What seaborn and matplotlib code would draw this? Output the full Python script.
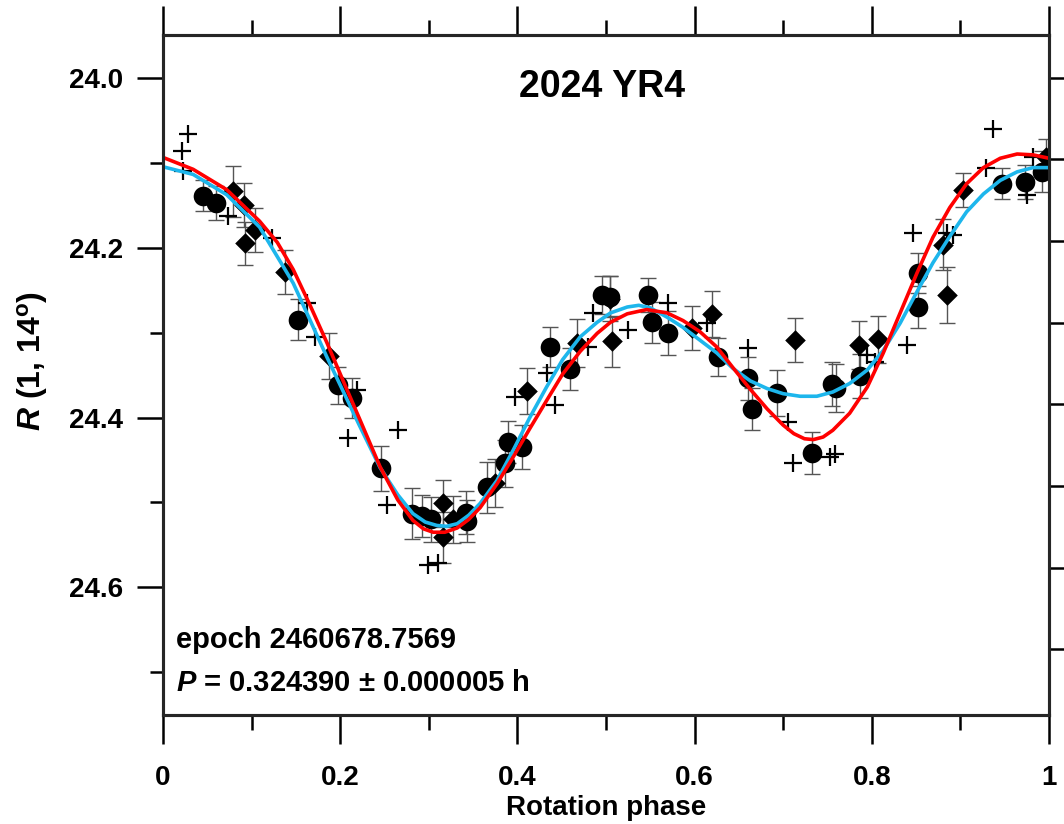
import numpy as np
import pandas as pd
import seaborn as sns
import matplotlib.pyplot as plt
from matplotlib.ticker import MultipleLocator, FuncFormatter

# ---- data read off the lightcurve ----
# session A (filled circles, with error bars)
circ_phase = [0.045, 0.060, 0.152, 0.198, 0.213, 0.246, 0.281, 0.292, 0.303, 0.342,
              0.343, 0.366, 0.386, 0.389, 0.405, 0.437, 0.459, 0.495, 0.504, 0.547,
              0.552, 0.570, 0.626, 0.660, 0.665, 0.693, 0.733, 0.755, 0.760, 0.787,
              0.852, 0.852, 0.947, 0.973, 0.992]
circ_mag = [24.139, 24.148, 24.285, 24.362, 24.377, 24.460, 24.513, 24.516, 24.520, 24.512,
            24.522, 24.482, 24.454, 24.429, 24.435, 24.317, 24.343, 24.256, 24.258, 24.256,
            24.288, 24.301, 24.329, 24.354, 24.390, 24.371, 24.442, 24.361, 24.365, 24.351,
            24.230, 24.270, 24.125, 24.123, 24.111]
circ_err = [0.018, 0.020, 0.024, 0.022, 0.024, 0.027, 0.030, 0.025, 0.027, 0.025,
            0.025, 0.030, 0.028, 0.025, 0.026, 0.024, 0.025, 0.022, 0.024, 0.020,
            0.024, 0.026, 0.022, 0.025, 0.025, 0.027, 0.025, 0.026, 0.028, 0.026,
            0.024, 0.025, 0.018, 0.020, 0.024]

# session B (filled diamonds, with error bars)
diam_phase = [0.079, 0.091, 0.093, 0.104, 0.138, 0.187, 0.316, 0.316, 0.327, 0.375,
              0.411, 0.467, 0.505, 0.507, 0.597, 0.620, 0.713, 0.786, 0.807, 0.880,
              0.885, 0.903, 0.997]
diam_mag = [24.134, 24.150, 24.195, 24.179, 24.229, 24.328, 24.501, 24.541, 24.520, 24.477,
            24.369, 24.312, 24.260, 24.310, 24.295, 24.278, 24.309, 24.315, 24.308, 24.197,
            24.256, 24.132, 24.094]
diam_err = [0.030, 0.026, 0.025, 0.026, 0.026, 0.027, 0.028, 0.030, 0.028, 0.028,
            0.027, 0.028, 0.027, 0.030, 0.026, 0.027, 0.026, 0.028, 0.028, 0.030,
            0.033, 0.020, 0.022]

# session C (plus signs)
plus_phase = [0.021, 0.028, 0.023, 0.073, 0.123, 0.163, 0.172, 0.209, 0.219, 0.253,
              0.265, 0.299, 0.310, 0.397, 0.433, 0.442, 0.485, 0.480, 0.525, 0.570,
              0.614, 0.660, 0.705, 0.711, 0.753, 0.758, 0.795, 0.804, 0.840, 0.846,
              0.885, 0.892, 0.929, 0.937, 0.975, 0.982]
plus_mag = [24.087, 24.066, 24.110, 24.163, 24.189, 24.265, 24.305, 24.424, 24.368, 24.503,
            24.415, 24.574, 24.571, 24.376, 24.348, 24.385, 24.277, 24.317, 24.297, 24.265,
            24.289, 24.318, 24.405, 24.453, 24.447, 24.443, 24.327, 24.335, 24.315, 24.183,
            24.183, 24.185, 24.106, 24.061, 24.138, 24.093]

# fitted curves
blue_phase = [0.000, 0.034, 0.072, 0.109, 0.147, 0.185, 0.222, 0.245, 0.265, 0.282,
              0.296, 0.309, 0.320, 0.332, 0.345, 0.358, 0.377, 0.395, 0.414, 0.433,
              0.451, 0.471, 0.490, 0.505, 0.524, 0.537, 0.550, 0.569, 0.587, 0.606,
              0.625, 0.643, 0.663, 0.682, 0.700, 0.719, 0.738, 0.756, 0.775, 0.795,
              0.813, 0.832, 0.851, 0.869, 0.888, 0.907, 0.926, 0.945, 0.964, 0.982,
              1.000]
blue_mag = [24.105, 24.114, 24.138, 24.176, 24.242, 24.329, 24.410, 24.459, 24.491, 24.513,
            24.523, 24.527, 24.528, 24.525, 24.515, 24.501, 24.474, 24.439, 24.400, 24.364,
            24.332, 24.305, 24.288, 24.277, 24.270, 24.268, 24.271, 24.282, 24.294, 24.309,
            24.324, 24.342, 24.357, 24.366, 24.372, 24.375, 24.375, 24.370, 24.360, 24.344,
            24.321, 24.289, 24.252, 24.218, 24.187, 24.158, 24.137, 24.121, 24.111, 24.106,
            24.106]

red_phase = [0.000, 0.034, 0.072, 0.109, 0.129, 0.147, 0.166, 0.185, 0.203, 0.222,
             0.245, 0.265, 0.282, 0.294, 0.305, 0.318, 0.332, 0.345, 0.358, 0.377,
             0.395, 0.414, 0.433, 0.451, 0.471, 0.490, 0.505, 0.524, 0.546, 0.569,
             0.587, 0.606, 0.625, 0.643, 0.663, 0.682, 0.700, 0.712, 0.724, 0.734,
             0.745, 0.756, 0.775, 0.795, 0.813, 0.832, 0.851, 0.869, 0.888, 0.907,
             0.926, 0.945, 0.964, 0.982, 1.000]
red_mag = [24.094, 24.108, 24.132, 24.169, 24.194, 24.226, 24.268, 24.312, 24.356, 24.402,
           24.458, 24.497, 24.521, 24.531, 24.535, 24.535, 24.530, 24.520, 24.506, 24.478,
           24.447, 24.413, 24.380, 24.349, 24.322, 24.301, 24.288, 24.278, 24.273, 24.277,
           24.286, 24.299, 24.317, 24.341, 24.367, 24.390, 24.409, 24.419, 24.425, 24.426,
           24.423, 24.415, 24.395, 24.364, 24.324, 24.277, 24.230, 24.188, 24.153, 24.125,
           24.106, 24.095, 24.090, 24.091, 24.095]

title = "2024 YR4"
epoch_text = "epoch 2460678.7569"
period_text = r"$\mathbfit{P}$ = 0.324390 ± 0.000005 h"

# ---- style ----
sns.set_theme(style="ticks")
plt.rcParams['font.family'] = ['Liberation Sans', 'DejaVu Sans']
plt.rcParams['font.weight'] = 'bold'
plt.rcParams['text.color'] = 'black'
plt.rcParams['axes.labelcolor'] = 'black'
plt.rcParams['xtick.color'] = 'black'
plt.rcParams['ytick.color'] = 'black'
plt.rcParams['mathtext.fontset'] = 'custom'
plt.rcParams['mathtext.rm'] = 'Liberation Sans:bold'
plt.rcParams['mathtext.bf'] = 'Liberation Sans:bold'
plt.rcParams['mathtext.it'] = 'Liberation Sans:italic:bold'
plt.rcParams['mathtext.bfit'] = 'Liberation Sans:italic:bold'

fig = plt.figure(figsize=(10.64, 8.24), dpi=100)
ax = fig.add_axes([0.1532, 0.1323, 0.8327, 0.8252])

# error bars first, then markers, then fits on top
ax.errorbar(circ_phase, circ_mag, yerr=circ_err, fmt='none', ecolor='#555555',
            elinewidth=1, capsize=6, capthick=1, zorder=2)
ax.errorbar(diam_phase, diam_mag, yerr=diam_err, fmt='none', ecolor='#555555',
            elinewidth=1, capsize=6, capthick=1, zorder=2)

sns.scatterplot(x=circ_phase, y=circ_mag, marker='o', s=200, color='black',
                linewidth=0, ax=ax, zorder=3)
sns.scatterplot(x=diam_phase, y=diam_mag, marker='D', s=110, color='black',
                linewidth=0, ax=ax, zorder=3)
sns.scatterplot(x=plus_phase, y=plus_mag, marker='+', s=170, color='black',
                linewidth=1.6, ax=ax, zorder=3)

sns.lineplot(x=blue_phase, y=blue_mag, color='#1DB6EC', linewidth=2.6,
             sort=False, estimator=None, ax=ax, zorder=4)
sns.lineplot(x=red_phase, y=red_mag, color='#FF0000', linewidth=2.6,
             sort=False, estimator=None, ax=ax, zorder=5)

ax.set_xlim(0, 1)
ax.set_ylim(24.75, 23.95)

ax.xaxis.set_major_locator(MultipleLocator(0.2))
ax.xaxis.set_minor_locator(MultipleLocator(0.1))
ax.xaxis.set_major_formatter(FuncFormatter(lambda v, p: f"{v:g}"))
ax.yaxis.set_major_locator(MultipleLocator(0.2))
ax.yaxis.set_minor_locator(MultipleLocator(0.1))
ax.yaxis.set_major_formatter(FuncFormatter(lambda v, p: f"{v:.1f}"))

ax.tick_params(axis='x', which='major', direction='out', length=21, width=1.8,
               top=True, labelsize=20, pad=15)
ax.tick_params(axis='x', which='minor', direction='out', length=10.5, width=1.8, top=True)
ax.tick_params(axis='y', which='major', direction='out', length=19, width=1.8,
               right=False, labelsize=20, pad=10)
ax.tick_params(axis='y', which='minor', direction='out', length=9.5, width=1.8, right=False)
for s in ax.spines.values():
    s.set_visible(True)
    s.set_linewidth(2.2)
    s.set_color('black')

# right-hand axis has its own tick spacing
ax2 = ax.twinx()
ax2.set_ylim(ax.get_ylim())
ax2.set_yticks(24.0 + 0.0961 * np.arange(8))
ax2.tick_params(axis='y', direction='out', length=20, width=1.8, labelright=False)
for s in ax2.spines.values():
    s.set_linewidth(2.2)

ax.text(0.495, 0.9235, title, transform=ax.transAxes, ha='center', va='center',
        fontsize=27, fontweight='bold')
ax.text(0.0147, 0.110, epoch_text, transform=ax.transAxes, ha='left', va='center',
        fontsize=21, fontweight='bold')
ax.text(0.0147, 0.047, period_text, transform=ax.transAxes, ha='left', va='center',
        fontsize=21, fontweight='bold')

ax.set_xlabel("Rotation phase", fontsize=20, fontweight='bold')
ax.xaxis.set_label_coords(0.5, -0.117)
ax.set_ylabel(r"$\mathbfit{R}$ (1, 14$^{\mathbf{o}}$)", fontsize=23, fontweight='bold')
ax.yaxis.set_label_coords(-0.128, 0.52)

fig.savefig("out.png", dpi=100)
